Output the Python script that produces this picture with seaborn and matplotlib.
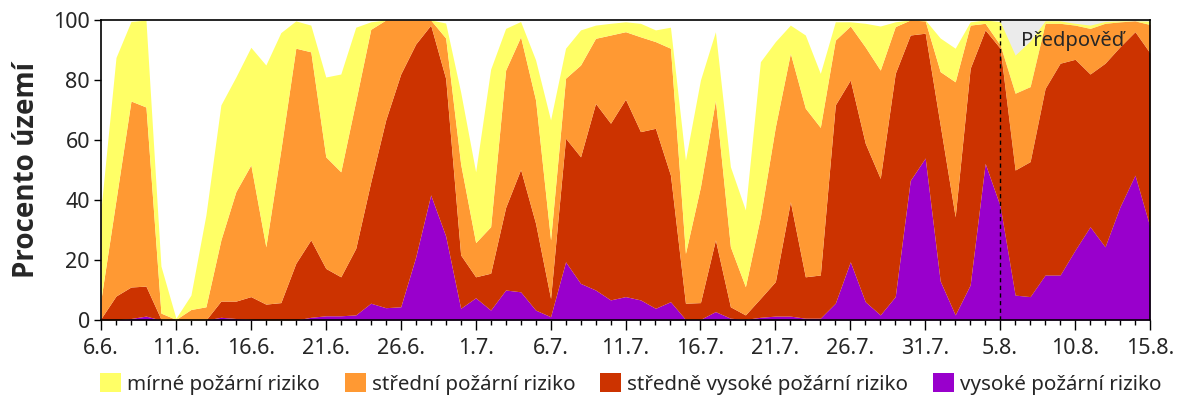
import numpy as np
import pandas as pd
import matplotlib
matplotlib.use("Agg")
import matplotlib.pyplot as plt
from matplotlib.patches import Patch
from matplotlib import font_manager
import seaborn as sns

# ---- data (percent of territory per day, 6.6. .. 15.8.) ----
start_labels = ["6.6.", "11.6.", "16.6.", "21.6.", "26.6.", "1.7.", "6.7.", "11.7.",
                "16.7.", "21.7.", "26.7.", "31.7.", "5.8.", "10.8.", "15.8."]

mirne = [30, 47.5, 26.5, 29, 15.7, 0.4, 4.8, 30.6, 45, 38.2,
         39.2, 60.6, 39.1, 9.1, 8.9, 26.6, 32.6, 24.6, 2.5, 0,
         0, 0, 0, 5, 24, 23.6, 52.5, 13.9, 5.1, 13.4,
         40, 10, 11.7, 4.4, 3.9, 3.3, 4.5, 3.9, 7, 31.1,
         35.6, 22.8, 26.7, 25.6, 51.7, 28.4, 9.4, 24.4, 18, 6.1,
         1.4, 7.9, 14.7, 1.6, 0, 0.3, 11.2, 11.2, 1.1, 1.1,
         7.8, 12.7, 15.2, 0.8, 0.8, 0.6, 1.1, 0.6, 0.3, 0,
         1.1]
stredni = [6.5, 32, 62, 59.7, 2, 0.2, 3.5, 4.4, 20.4, 36.5,
           43.9, 19.1, 50.9, 71.7, 62.7, 37.2, 35, 49.1, 50.9, 33.3,
           18, 8, 1.7, 13.5, 30.3, 11.4, 15.5, 45.8, 44.2, 41.1,
           19.5, 20, 30.6, 21.7, 29.4, 22.5, 31.6, 28.9, 42.3, 16.6,
           38.6, 46.6, 20, 9.4, 27.2, 51.6, 49.5, 56.2, 49.2, 21.6,
           18, 32.1, 36.1, 15.6, 5, 4.1, 17.8, 45, 14.4, 2.2,
           1.1, 25.6, 25, 21.7, 13.3, 11.4, 15.2, 13.3, 8.3, 3.6,
           9.5]
stredne_vysoke = [0.5, 8, 10.5, 10, 0.3, 0, 0, 0, 5.4, 5.8,
                  7.6, 5.3, 5.8, 18.9, 25.8, 15.8, 13, 22.2, 40.4, 62.6,
                  77.6, 71, 56.6, 52.5, 17.8, 7, 12.3, 27.5, 40.8, 28.9,
                  6.1, 41.2, 42.2, 62.2, 58.9, 65.8, 56.1, 60, 42.2, 5.4,
                  5.6, 23.9, 3.8, 1.5, 6.3, 11.5, 38.1, 13.8, 14.4, 66.1,
                  60.6, 52.8, 45.5, 74.4, 48.5, 41.6, 52, 32.7, 72.2, 44.5,
                  52.6, 41.7, 45, 62.2, 70.6, 63.6, 50.9, 61.2, 53.3, 47.8,
                  58]
vysoke = [0, 0, 0.5, 1.3, 0, 0, 0, 0, 0.9, 0.5,
          0.2, 0, 0, 0, 0.9, 1.4, 1.4, 1.7, 5.6, 4.1,
          4.4, 21, 41.7, 28, 3.9, 7.4, 3.3, 10, 9.4, 3.3,
          1.1, 19.4, 12.2, 10, 6.7, 7.8, 6.7, 3.9, 6.1, 0.2,
          0.2, 2.8, 0.6, 0.2, 0.9, 1.3, 1.3, 0.6, 0.6, 5.6,
          19.4, 6.1, 1.7, 7.8, 46.5, 54, 13, 1.7, 11.7, 52.2,
          38, 8.3, 7.8, 15, 15, 23.3, 31.1, 24.4, 37.8, 48.3,
          31]

series_names = ["mírné požární riziko", "střední požární riziko",
                "středně vysoké požární riziko", "vysoké požární riziko"]
colors = ["#FFFF66", "#FF9933", "#CC3300", "#9900CC"]
forecast_start = "5.8."
forecast_label = "Předpověď"
y_label = "Procento území"

days = np.arange(len(vysoke))
df = pd.DataFrame({"den": days,
                   series_names[3]: vysoke,
                   series_names[2]: stredne_vysoke,
                   series_names[1]: stredni,
                   series_names[0]: mirne})

sns.set_theme(style="white")
plt.rcParams["font.family"] = ["Noto Sans", "DejaVu Sans"]

# pick a family that really has a bold face for the y label
bold_family = "DejaVu Sans"
for fam in ["Noto Sans", "Open Sans", "Lato", "Roboto", "Liberation Sans"]:
    if any(f.name == fam and (f.weight in ("bold", 700) or str(f.weight) == "700")
           for f in font_manager.fontManager.ttflist):
        bold_family = fam
        break

fig = plt.figure(figsize=(12, 4), dpi=100)
ax = fig.add_axes([101 / 1200, 80 / 400, 1049 / 1200, 300 / 400])

fc_idx = start_labels.index(forecast_start) * 5
ax.axvspan(fc_idx, days[-1], color="#EBEBEB", zorder=0, lw=0)

ax.stackplot(df["den"],
             df[series_names[3]], df[series_names[2]],
             df[series_names[1]], df[series_names[0]],
             colors=colors[::-1], linewidth=0, zorder=1)

ax.axvline(fc_idx, color="black", ls=(0, (3, 2.5)), lw=1, zorder=3)
ax.text(61.4, 93, forecast_label, fontsize=14.5, ha="left", va="center", zorder=4)

ax.set_xlim(days[0], days[-1])
ax.set_ylim(0, 100)
ax.set_xticks(np.arange(0, len(days), 5))
ax.set_xticklabels(start_labels)
ax.set_xticks(days, minor=True)
ax.set_yticks(np.arange(0, 101, 20))
ax.tick_params(axis="x", which="major", direction="out", length=7, width=1,
               color="black", labelsize=15.5, pad=6, bottom=True)
ax.tick_params(axis="x", which="minor", direction="out", length=3.5, width=1,
               color="black", bottom=True)
ax.tick_params(axis="y", which="major", direction="out", length=5, width=1,
               color="black", labelsize=15.5, pad=3, left=True)
for s in ax.spines.values():
    s.set_color("black")
    s.set_linewidth(1.2)
    s.set_visible(True)
ax.set_ylabel(y_label, fontsize=20, fontweight="bold",
              family=[bold_family, "DejaVu Sans"], labelpad=9)
ax.set_xlabel("")

handles = [Patch(facecolor=c, edgecolor="none") for c in colors]
fig.legend(handles, series_names, loc="center left",
           bbox_to_anchor=(100 / 1200, 1 - 384 / 400), ncol=4, frameon=False,
           fontsize=14.8, handlelength=1.02, handleheight=1.02,
           handletextpad=0.29, columnspacing=1.22, borderpad=0, borderaxespad=0)

fig.savefig("out.png", dpi=100)
